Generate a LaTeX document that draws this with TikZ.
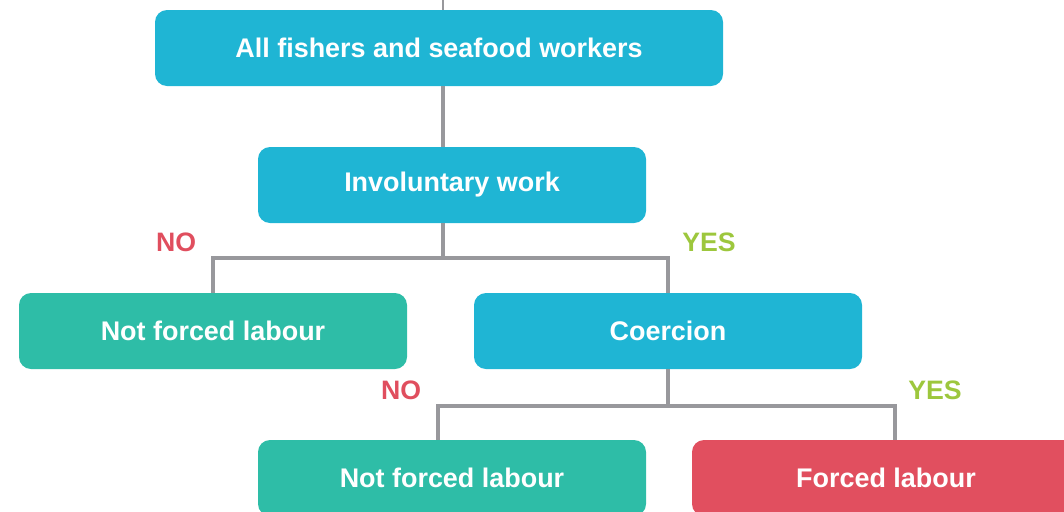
\documentclass[tikz,border=0pt]{standalone}
\usepackage{fontspec}
\setmainfont{Liberation Sans}
\definecolor{boxblue}{HTML}{1FB5D4}
\definecolor{boxgreen}{HTML}{2EBDA7}
\definecolor{boxred}{HTML}{E14F5F}
\definecolor{linegray}{HTML}{98989C}
\definecolor{nored}{HTML}{E04E5E}
\definecolor{yesgreen}{HTML}{9DC73D}
\begin{document}
\begin{tikzpicture}[x=0.75pt, y=-0.75pt,
    box/.style={rounded corners=9pt, minimum width=291pt, minimum height=57pt,
        text=white, font=\bfseries\fontsize{20.2}{24}\selectfont, inner sep=0pt},
    bluebox/.style={box, fill=boxblue},
    greenbox/.style={box, fill=boxgreen},
    redbox/.style={box, fill=boxred},
    link/.style={draw=linegray, line width=3pt},
    nolabel/.style={text=nored, font=\bfseries\fontsize{20}{24}\selectfont},
    yeslabel/.style={text=yesgreen, font=\bfseries\fontsize{20}{24}\selectfont}]
    \useasboundingbox (0,0) rectangle (1064,511);
    % uzly
    \node[bluebox, minimum width=426pt] (all) at (439,48) {All fishers and seafood workers};
    \node[bluebox] (invol) at (452,185) {Involuntary work};
    \node[greenbox] (notforced1) at (213,331) {Not forced labour};
    \node[bluebox] (coerc) at (668,331) {Coercion};
    \node[greenbox] (notforced2) at (452,478) {Not forced labour};
    \node[redbox] (forced) at (886,478) {Forced labour};

    % spojnice
    \coordinate (stub) at (443,0);
    \coordinate (fork1) at (443,258);
    \coordinate (left2) at (438,406);
    \coordinate (right2) at (895,406);
    \draw[link, line width=1.5pt] (stub) -- (stub |- all.north);
    \draw[link] (stub |- all.south) -- (stub |- invol.north);
    \draw[link] (stub |- invol.south) -- (fork1);
    \draw[link] (notforced1.north) |- (fork1) -| (coerc.north);
    \draw[link] (coerc.south) -- (coerc.south |- left2);
    \draw[link] (left2 |- notforced2.north) -- (left2) -- (right2) -- (right2 |- forced.north);

    % popisky vetvi
    \node[nolabel] (no1) at (176,242) {NO};
    \node[yeslabel] (yes1) at (709,242) {YES};
    \node[nolabel] (no2) at (401,390) {NO};
    \node[yeslabel] (yes2) at (935,390) {YES};
\end{tikzpicture}
\end{document}
